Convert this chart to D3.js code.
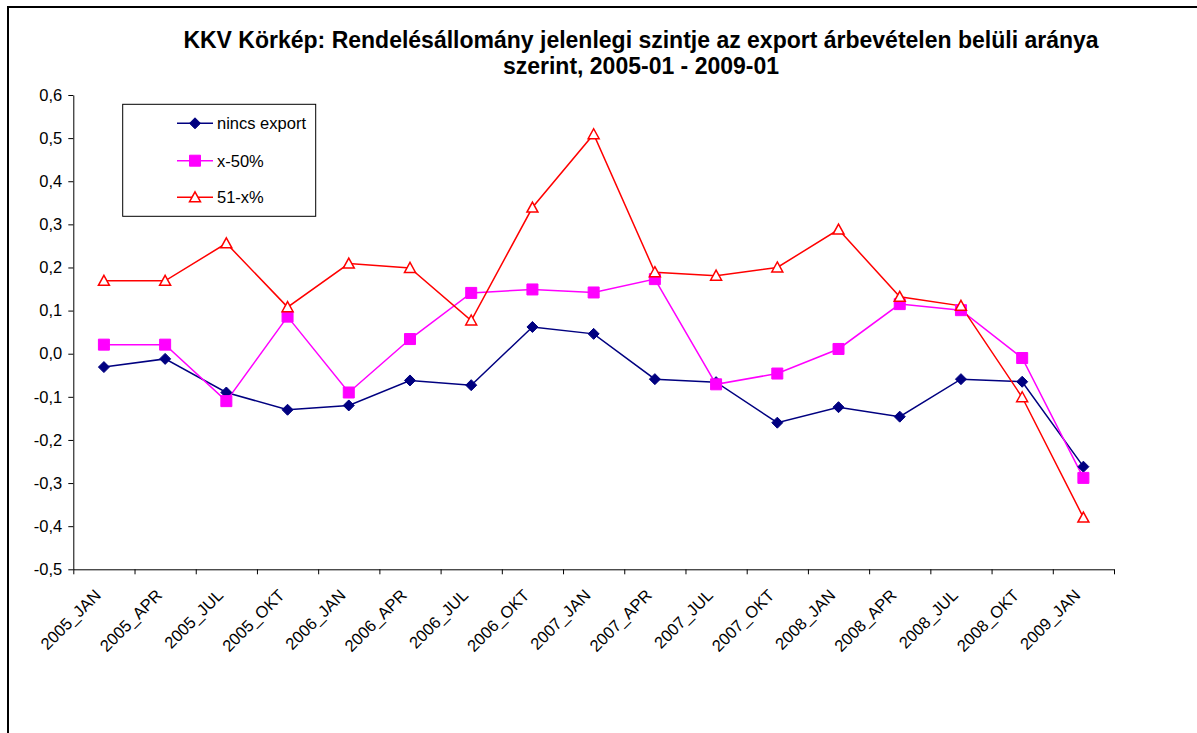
<!DOCTYPE html>
<html>
<head>
<meta charset="utf-8">
<script src="https://d3js.org/d3.v7.min.js"></script>
<style>
  html, body { margin: 0; padding: 0; background: #fff; }
  svg { display: block; font-family: Arial, "Liberation Sans", sans-serif; }
</style>
</head>
<body>
<div id="chart"></div>
<script>
// ---- data ----
const categories = ['2005_JAN', '2005_APR', '2005_JUL', '2005_OKT', '2006_JAN', '2006_APR',
  '2006_JUL', '2006_OKT', '2007_JAN', '2007_APR', '2007_JUL', '2007_OKT', '2008_JAN',
  '2008_APR', '2008_JUL', '2008_OKT', '2009_JAN'];
const nincsExport = [-0.031, -0.012, -0.090, -0.130, -0.120, -0.062, -0.073, 0.062, 0.046,
  -0.059, -0.066, -0.160, -0.124, -0.146, -0.059, -0.065, -0.262];
const x50 = [0.021, 0.021, -0.110, 0.086, -0.090, 0.034, 0.141, 0.149, 0.142,
  0.173, -0.071, -0.046, 0.011, 0.115, 0.101, -0.010, -0.288];
const x51 = [0.169, 0.169, 0.256, 0.108, 0.209, 0.199, 0.077, 0.339, 0.509,
  0.189, 0.181, 0.200, 0.288, 0.132, 0.111, -0.101, -0.380];
const yTicks = [0.6, 0.5, 0.4, 0.3, 0.2, 0.1, 0, -0.1, -0.2, -0.3, -0.4, -0.5];
const titleLines = ['KKV Körkép: Rendelésállomány jelenlegi szintje az export árbevételen belüli aránya',
  'szerint, 2005-01 - 2009-01'];

const series = [
  { name: 'nincs export', values: nincsExport, color: '#000080', marker: 'diamond' },
  { name: 'x-50%', values: x50, color: '#FF00FF', marker: 'square' },
  { name: '51-x%', values: x51, color: '#FF0000', marker: 'triangle' }
];

// ---- layout ----
const W = 1197, H = 733;
const plot = { left: 73.3, right: 1114, top: 95, bottom: 569.3 };

const svg = d3.select('#chart').append('svg')
  .attr('width', W).attr('height', H);

// outer frame (runs off the right and bottom edges)
svg.append('rect')
  .attr('x', 8).attr('y', 7)
  .attr('width', W + 20).attr('height', H + 20)
  .attr('fill', 'none').attr('stroke', '#000').attr('stroke-width', 2);

// title
svg.append('text')
  .attr('text-anchor', 'middle')
  .style('font-size', '23px').style('font-weight', 'bold')
  .selectAll('tspan').data(titleLines).enter().append('tspan')
  .attr('x', 641).attr('y', (d, i) => 47.5 + i * 26.5)
  .text(d => d);

const x = d3.scaleBand().domain(categories).range([plot.left, plot.right]).padding(0);
const xEdge = d3.scaleLinear().domain([0, categories.length]).range([plot.left, plot.right]);
const y = d3.scaleLinear().domain([-0.5, 0.6]).range([plot.bottom, plot.top]);
const cx = c => x(c) + x.bandwidth() / 2;

const fmt = d => d.toFixed(1).replace('.', ',');

// y axis
const yAxis = svg.append('g')
  .attr('transform', `translate(${plot.left},0)`)
  .call(d3.axisLeft(y).tickValues(yTicks).tickFormat(fmt).tickSize(5).tickSizeOuter(0).tickPadding(6));
yAxis.selectAll('text').style('font-size', '16.5px').attr('fill', '#000');
yAxis.selectAll('line, path').attr('stroke', '#000');

// x axis: tick marks on category edges
const xTicks = svg.append('g')
  .attr('transform', `translate(0,${plot.bottom})`)
  .call(d3.axisBottom(xEdge).tickValues(d3.range(categories.length + 1)).tickFormat('').tickSize(5).tickSizeOuter(0));
xTicks.selectAll('line, path').attr('stroke', '#000');

// x axis labels, rotated
const xLabels = svg.append('g')
  .attr('transform', `translate(0,${plot.bottom})`)
  .call(d3.axisBottom(x).tickSize(0).tickPadding(0));
xLabels.select('.domain').remove();
xLabels.selectAll('text')
  .style('font-size', '16.5px').attr('fill', '#000')
  .attr('text-anchor', 'end')
  .attr('dy', 0)
  .attr('transform', 'translate(-2,27) rotate(-45)');

// lines
const line = d3.line().x((d, i) => cx(categories[i])).y(d => y(d));

const markerPath = (type) => {
  if (type === 'diamond') return 'M0,-5.5L5.5,0L0,5.5L-5.5,0Z';
  if (type === 'square') return 'M-5.5,-5.5H5.5V5.5H-5.5Z';
  return 'M0,-5.5L5.5,4.5H-5.5Z';
};

const drawMarker = (g, s) => {
  g.append('path')
    .attr('d', markerPath(s.marker))
    .attr('fill', s.marker === 'triangle' ? '#fff' : s.color)
    .attr('stroke', s.color)
    .attr('stroke-width', s.marker === 'triangle' ? 1.5 : 1);
};

series.forEach(s => {
  svg.append('path')
    .datum(s.values)
    .attr('d', line)
    .attr('fill', 'none')
    .attr('stroke', s.color)
    .attr('stroke-width', 1.5);
});

series.forEach(s => {
  svg.selectAll(null)
    .data(s.values)
    .enter().append('g')
    .attr('transform', (d, i) => `translate(${cx(categories[i])},${y(d)})`)
    .each(function() { drawMarker(d3.select(this), s); });
});

// legend
const legend = svg.append('g');
legend.append('rect')
  .attr('x', 122.7).attr('y', 104.3).attr('width', 193).attr('height', 112)
  .attr('fill', '#fff').attr('stroke', '#000').attr('stroke-width', 1);

const legendRows = [123.3, 160.7, 197.3];
series.forEach((s, i) => {
  const row = legend.append('g').attr('transform', `translate(0,${legendRows[i]})`);
  row.append('line')
    .attr('x1', 177).attr('x2', 213).attr('y1', 0).attr('y2', 0)
    .attr('stroke', s.color).attr('stroke-width', 1.5);
  const m = row.append('g').attr('transform', 'translate(195,0)');
  drawMarker(m, s);
  row.append('text')
    .attr('x', 217).attr('y', 6)
    .style('font-size', '16.5px').attr('fill', '#000')
    .text(s.name);
});
</script>
</body>
</html>
